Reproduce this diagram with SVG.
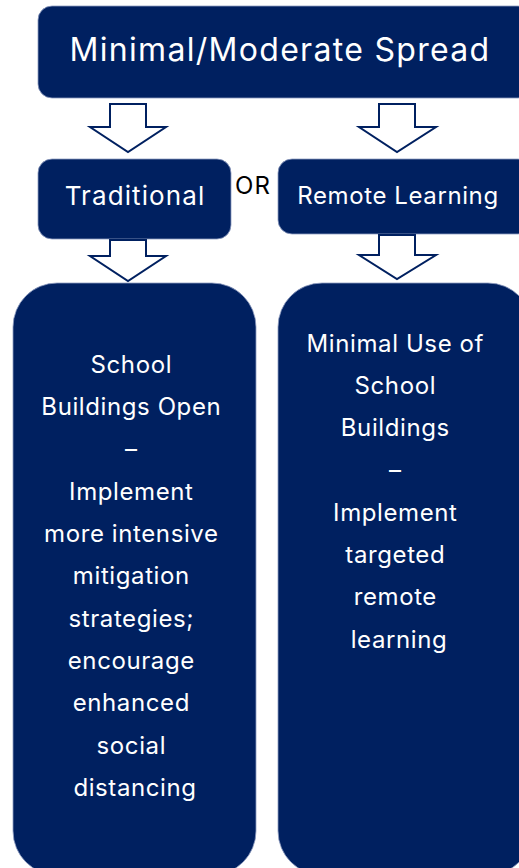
<svg xmlns="http://www.w3.org/2000/svg" width="519" height="868" viewBox="0 0 519 868">
<style>
.box{fill:#002060;stroke:#8e9cc0;stroke-width:0.8}
.t{font-family:Inter,"Noto Sans",sans-serif;fill:#fff;text-anchor:middle}
.arr{fill:#fff;stroke:#002060;stroke-width:2;stroke-linejoin:miter}
.body{font-size:24px;letter-spacing:0.6px}
</style>
<rect width="519" height="868" fill="#fff"/>
<g id="node-top">
<rect class="box" x="38" y="6" width="494" height="92" rx="14"/>
<text class="t" x="280" y="61" font-size="32" letter-spacing="1.3">Minimal/Moderate Spread</text>
</g>
<g id="node-traditional">
<rect class="box" x="38" y="159" width="193" height="80" rx="14"/>
<text class="t" x="135" y="205" font-size="26" letter-spacing="1.1">Traditional</text>
</g>
<g id="node-or">
<text x="253" y="194" font-family="Inter,'Noto Sans',sans-serif" font-size="24" letter-spacing="1" text-anchor="middle" fill="#000">OR</text>
</g>
<g id="node-remote">
<rect class="box" x="278" y="159" width="254" height="75" rx="14"/>
<text class="t" x="398" y="204" font-size="24" letter-spacing="0.6">Remote Learning</text>
</g>
<g id="node-left">
<rect class="box" x="13" y="283" width="243" height="592" rx="44"/>
<text class="t body">
<tspan x="135" y="373">School</tspan>
<tspan x="135" y="415">Buildings Open</tspan>
<tspan x="135" y="457">–</tspan>
<tspan x="135" y="500">Implement</tspan>
<tspan x="135" y="542">more intensive</tspan>
<tspan x="135" y="584">mitigation</tspan>
<tspan x="135" y="627">strategies;</tspan>
<tspan x="135" y="669">encourage</tspan>
<tspan x="135" y="711">enhanced</tspan>
<tspan x="135" y="754">social</tspan>
<tspan x="135" y="796">distancing</tspan>
</text>
</g>
<g id="node-right">
<rect class="box" x="278" y="283" width="254" height="592" rx="44"/>
<text class="t body">
<tspan x="399" y="352">Minimal Use of</tspan>
<tspan x="399" y="394">School</tspan>
<tspan x="399" y="436">Buildings</tspan>
<tspan x="399" y="478">–</tspan>
<tspan x="399" y="521">Implement</tspan>
<tspan x="399" y="563">targeted</tspan>
<tspan x="399" y="605">remote</tspan>
<tspan x="399" y="648">learning</tspan>
</text>
</g>
<g id="connectors">
<polygon class="arr" points="110,104 146,104 146,127 166,127 128,152 90,127 110,127"/>
<polygon class="arr" points="379,104 415,104 415,127 436,127 397,152 359,127 379,127"/>
<polygon class="arr" points="110,240 146,240 146,256 166,256 128,281 90,256 110,256"/>
<polygon class="arr" points="379,235 415,235 415,255 436,255 397,279 359,255 379,255"/>
</g>
</svg>
